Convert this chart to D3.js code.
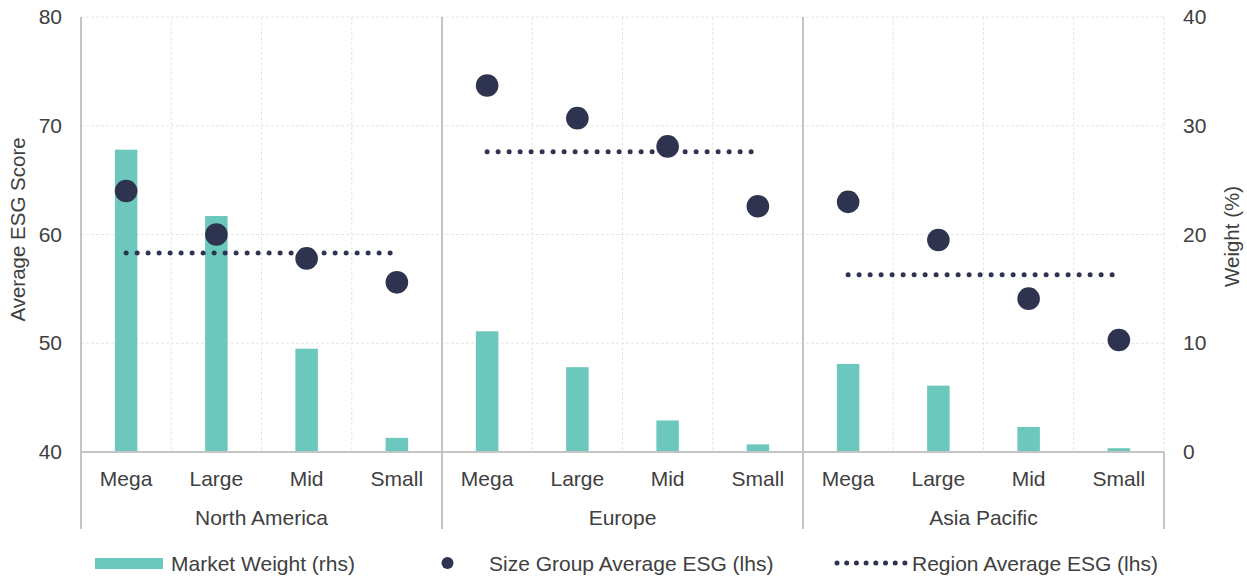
<!DOCTYPE html>
<html>
<head>
<meta charset="utf-8">
<script src="https://cdn.jsdelivr.net/npm/d3@7/dist/d3.min.js"></script>
<style>
  html, body { margin: 0; padding: 0; background: #fff; }
  svg { display: block; font-family: "Liberation Sans", Arial, sans-serif; }
</style>
</head>
<body>
<svg id="chart" width="1247" height="576"></svg>
<script>
// Regions and size groups
const regions = ["North America", "Europe", "Asia Pacific"];
const sizeGroups = ["Mega", "Large", "Mid", "Small"];

// Market weight (%) per region x size group, right axis
const marketWeight = [
  [27.8, 21.7, 9.5, 1.3],
  [11.1, 7.8, 2.9, 0.7],
  [8.1, 6.1, 2.3, 0.35]
];

// Size group average ESG score, left axis
const sizeGroupESG = [
  [64.0, 60.0, 57.8, 55.6],
  [73.7, 70.7, 68.1, 62.6],
  [63.0, 59.5, 54.1, 50.3]
];

// Region average ESG score, left axis
const regionESG = [58.3, 67.6, 56.3];

const leftTicks = [40, 50, 60, 70, 80];
const rightTicks = [0, 10, 20, 30, 40];

const colors = { bar: "#6cc8bc", dot: "#2e3350", text: "#404040", axis: "#c4c4c4", grid: "#e6e6e6" };

const margin = { left: 81, right: 83, top: 17, bottom: 124 };
const W = 1247, H = 576;
const x0 = margin.left, x1 = W - margin.right;
const yTop = margin.top, yBot = H - margin.bottom;

const svg = d3.select("#chart");

// Flattened category list: one slot per region/size pair
const cats = [];
regions.forEach((r, ri) => sizeGroups.forEach((s, si) => cats.push({ key: r + "|" + s, region: r, ri, size: s, si })));

const x = d3.scaleBand().domain(cats.map(d => d.key)).range([x0, x1]).paddingInner(0).paddingOuter(0);
const yL = d3.scaleLinear().domain([40, 80]).range([yBot, yTop]);
const yR = d3.scaleLinear().domain([0, 40]).range([yBot, yTop]);

const fs = 21;

// Horizontal gridlines
svg.append("g").selectAll("line").data(leftTicks.slice(1)).join("line")
  .attr("x1", x0).attr("x2", x1)
  .attr("y1", d => yL(d)).attr("y2", d => yL(d))
  .attr("stroke", colors.grid).attr("stroke-width", 1).attr("stroke-dasharray", "3,2");

// Vertical gridlines at category boundaries
svg.append("g").selectAll("line").data(cats.filter(d => d.si > 0).concat([null])).join("line")
  .attr("x1", d => d ? x(d.key) : x1).attr("x2", d => d ? x(d.key) : x1)
  .attr("y1", yTop).attr("y2", yBot)
  .attr("stroke", colors.grid).attr("stroke-width", 1).attr("stroke-dasharray", "3,2");

// Region separators and outer verticals extending under the labels
const sepX = [x0].concat(regions.slice(1).map((r, i) => x(r + "|" + sizeGroups[0])));
svg.append("g").selectAll("line").data(sepX).join("line")
  .attr("x1", d => d).attr("x2", d => d)
  .attr("y1", yTop).attr("y2", 529)
  .attr("stroke", colors.axis).attr("stroke-width", 2);
svg.append("line")
  .attr("x1", x1).attr("x2", x1).attr("y1", yBot).attr("y2", 529)
  .attr("stroke", colors.axis).attr("stroke-width", 2);

// Bars: market weight
const bw = 22.5;
svg.append("g").selectAll("rect").data(cats).join("rect")
  .attr("x", d => x(d.key) + x.bandwidth() / 2 - bw / 2)
  .attr("width", bw)
  .attr("y", d => yR(marketWeight[d.ri][d.si]))
  .attr("height", d => yBot - yR(marketWeight[d.ri][d.si]))
  .attr("fill", colors.bar);

// Bottom axis line
svg.append("line")
  .attr("x1", x0).attr("x2", x1).attr("y1", yBot).attr("y2", yBot)
  .attr("stroke", colors.axis).attr("stroke-width", 2);

// Region average dotted lines from Mega to Small
const regionLine = d3.line().x(d => d[0]).y(d => d[1]);
svg.append("g").selectAll("path").data(regions).join("path")
  .attr("d", (r, i) => regionLine([
    [x(r + "|Mega") + x.bandwidth() / 2, yL(regionESG[i])],
    [x(r + "|Small") + x.bandwidth() / 2, yL(regionESG[i])]
  ]))
  .attr("fill", "none").attr("stroke", colors.dot)
  .attr("stroke-width", 5).attr("stroke-linecap", "round").attr("stroke-dasharray", "0,11");

// Size group average dots
svg.append("g").selectAll("circle").data(cats).join("circle")
  .attr("cx", d => x(d.key) + x.bandwidth() / 2)
  .attr("cy", d => yL(sizeGroupESG[d.ri][d.si]))
  .attr("r", 11.3)
  .attr("fill", colors.dot);

// Left axis
const axL = svg.append("g").attr("transform", `translate(${x0},0)`)
  .call(d3.axisLeft(yL).tickValues(leftTicks).tickSize(0).tickPadding(19));
axL.select(".domain").remove();
axL.selectAll("text").attr("font-size", fs).attr("fill", colors.text).attr("font-family", "Liberation Sans, Arial, sans-serif");

// Right axis
const axR = svg.append("g").attr("transform", `translate(${x1},0)`)
  .call(d3.axisRight(yR).tickValues(rightTicks).tickSize(0).tickPadding(19));
axR.select(".domain").remove();
axR.selectAll("text").attr("font-size", fs).attr("fill", colors.text).attr("font-family", "Liberation Sans, Arial, sans-serif");

// Axis titles
svg.append("text")
  .attr("transform", `translate(25,${(yTop + yBot) / 2 - 5}) rotate(-90)`)
  .attr("text-anchor", "middle").attr("font-size", fs - 0.5).attr("fill", colors.text)
  .text("Average ESG Score");
svg.append("text")
  .attr("transform", `translate(1239,${(yTop + yBot) / 2 + 2}) rotate(-90)`)
  .attr("text-anchor", "middle").attr("font-size", fs - 0.5).attr("fill", colors.text)
  .text("Weight (%)");

// Size group labels
svg.append("g").selectAll("text").data(cats).join("text")
  .attr("x", d => x(d.key) + x.bandwidth() / 2)
  .attr("y", 485.5)
  .attr("text-anchor", "middle").attr("font-size", fs).attr("fill", colors.text)
  .text(d => d.size);

// Region labels
svg.append("g").selectAll("text").data(regions).join("text")
  .attr("x", r => (x(r + "|Mega") + x(r + "|Small") + x.bandwidth()) / 2)
  .attr("y", 524.5)
  .attr("text-anchor", "middle").attr("font-size", fs).attr("fill", colors.text)
  .text(r => r);

// Legend
const lg = svg.append("g");
lg.append("rect").attr("x", 95).attr("y", 558).attr("width", 68).attr("height", 11).attr("fill", colors.bar);
lg.append("text").attr("x", 171).attr("y", 570.5).attr("font-size", fs).attr("fill", colors.text).text("Market Weight (rhs)");
lg.append("circle").attr("cx", 447.5).attr("cy", 563).attr("r", 6).attr("fill", colors.dot);
lg.append("text").attr("x", 489).attr("y", 570.5).attr("font-size", fs).attr("fill", colors.text).text("Size Group Average ESG (lhs)");
lg.append("path").attr("d", "M837,563H905")
  .attr("stroke", colors.dot).attr("stroke-width", 5).attr("stroke-linecap", "round").attr("stroke-dasharray", "0,9.7");
lg.append("text").attr("x", 912).attr("y", 570.5).attr("font-size", fs).attr("fill", colors.text).text("Region Average ESG (lhs)");
</script>
</body>
</html>
